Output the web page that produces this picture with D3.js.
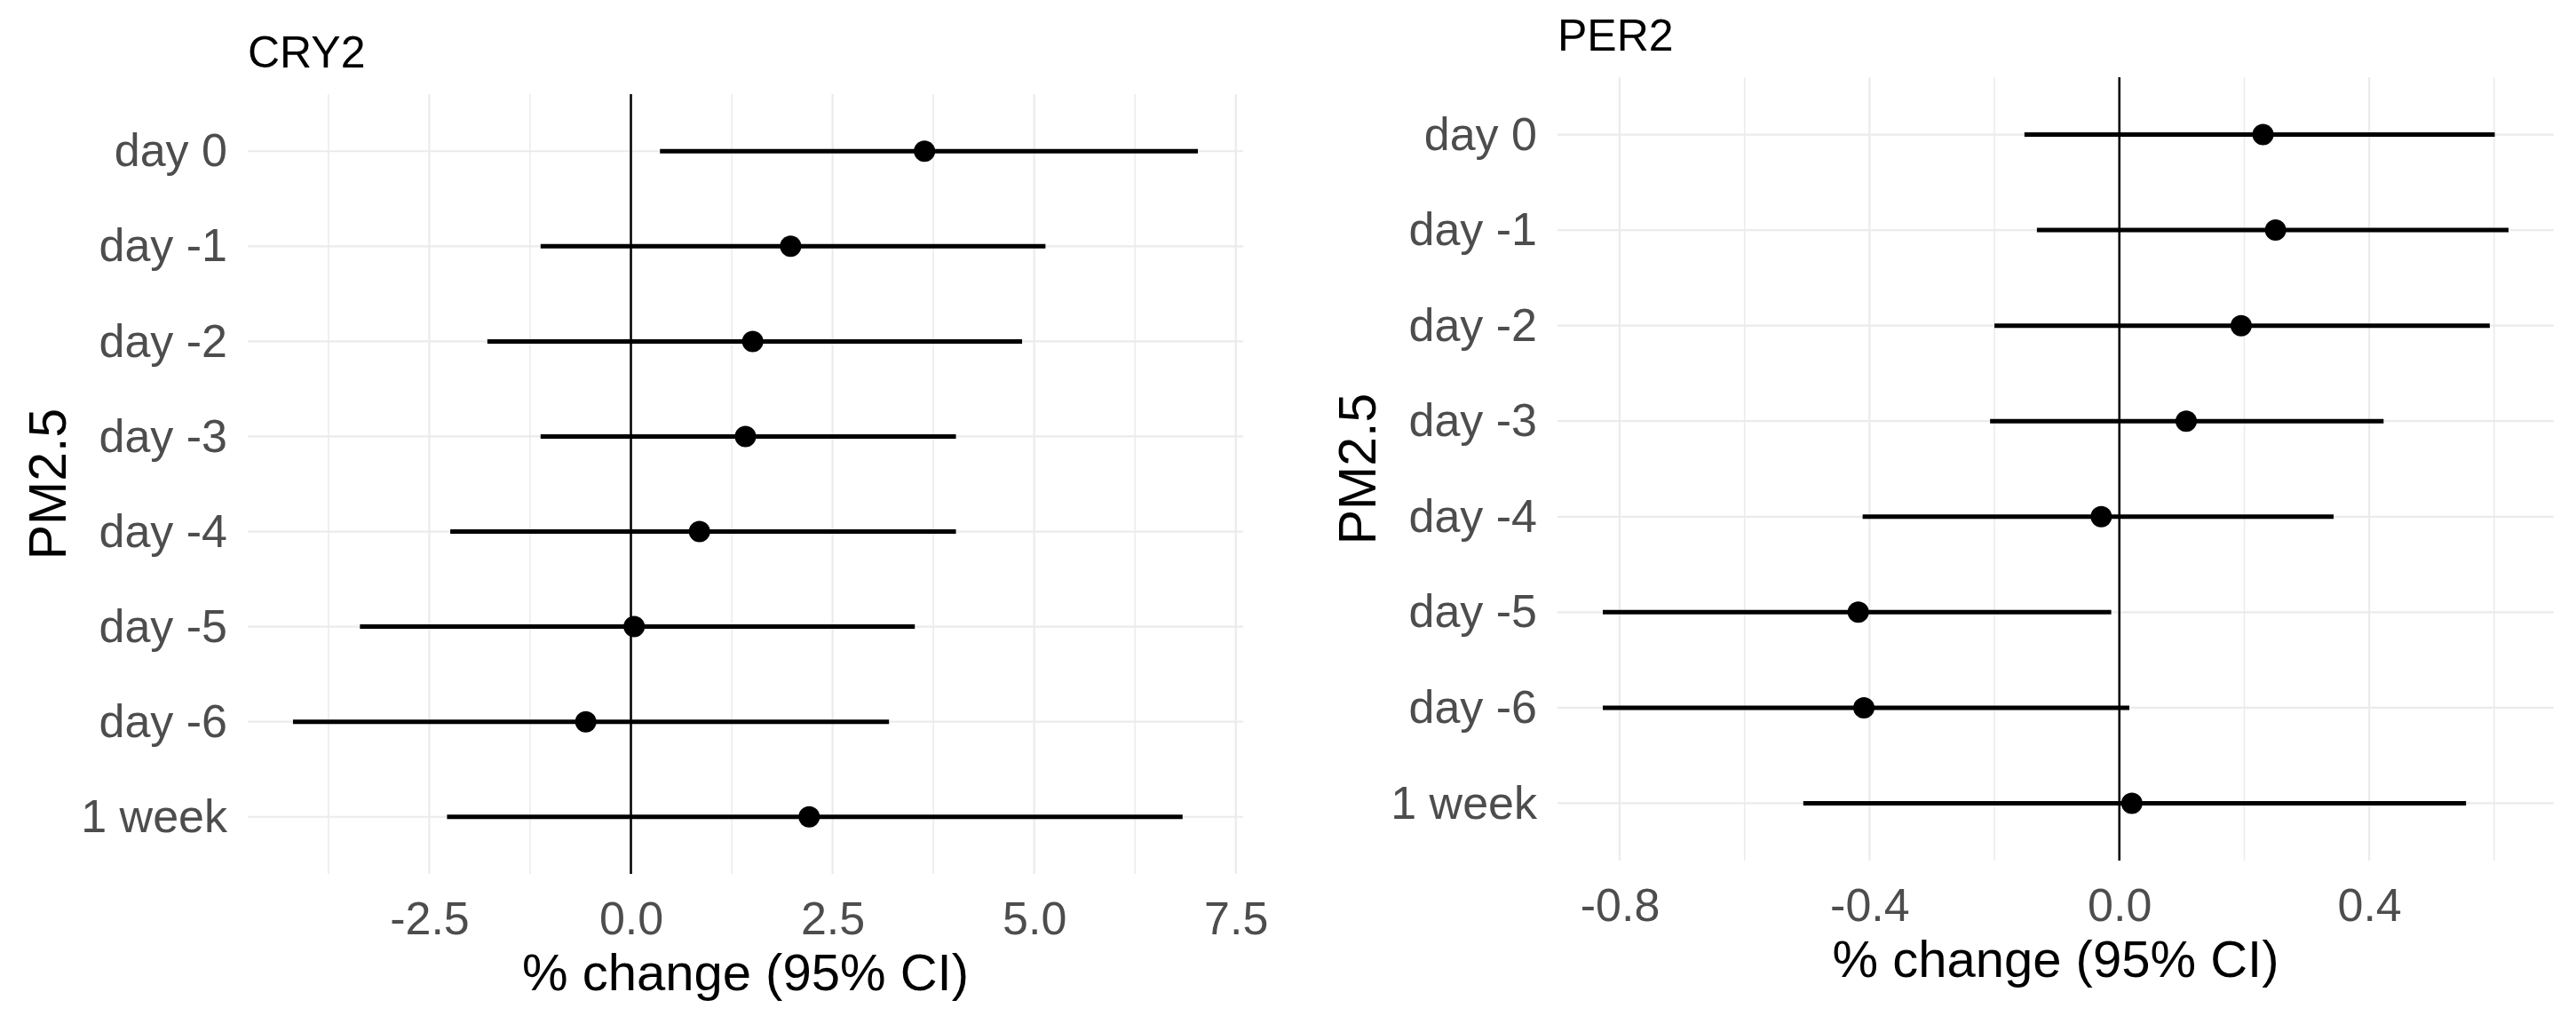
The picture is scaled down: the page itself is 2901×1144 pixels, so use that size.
<!DOCTYPE html>
<html>
<head>
<meta charset="utf-8">
<script src="https://cdn.jsdelivr.net/npm/d3@7"></script>
<style>
    body { margin: 0; background: #ffffff; }
    text { font-family: "Liberation Sans", Arial, sans-serif; }
</style>
</head>
<body>
<div id="chart"></div>
<script>
var lags = ["day 0", "day -1", "day -2", "day -3", "day -4", "day -5", "day -6", "1 week"];

var cry2Est = [3.64, 1.98, 1.51, 1.42, 0.85, 0.04, -0.56, 2.21];
var cry2Lo = [0.36, -1.12, -1.78, -1.12, -2.24, -3.36, -4.19, -2.28];
var cry2Hi = [7.03, 5.14, 4.85, 4.03, 4.03, 3.52, 3.20, 6.84];

var per2Est = [0.23, 0.25, 0.195, 0.107, -0.029, -0.418, -0.409, 0.02];
var per2Lo = [-0.152, -0.132, -0.2, -0.207, -0.411, -0.827, -0.827, -0.506];
var per2Hi = [0.601, 0.623, 0.593, 0.423, 0.343, -0.013, 0.016, 0.555];

var cry2Ticks = [-2.5, 0, 2.5, 5, 7.5];
var cry2Minor = [-3.75, -1.25, 1.25, 3.75, 6.25];
var per2Ticks = [-0.8, -0.4, 0, 0.4];
var per2Minor = [-0.6, -0.2, 0.2, 0.6];

var svg = d3.select("#chart")
    .append("svg")
    .attr("width", 2901)
    .attr("height", 1144);

var gridColor = "#ebebeb", tickColor = "#4d4d4d", ink = "#000000";

// R prints a plain hyphen, not the unicode minus d3.format gives
function fmt1(d) {
    return d.toFixed(1);
}

function drawPanel(p) {
    var data = lags.map(function (d, i) {
        return { lag: d, est: p.est[i], lo: p.lo[i], hi: p.hi[i] };
    });

    // ggplot style 5% expansion of the data range
    var min = d3.min(p.lo), max = d3.max(p.hi);
    var pad = (max - min) * 0.05;
    var x = d3.scaleLinear()
        .domain([min - pad, max + pad])
        .range([p.left, p.right]);
    var y = d3.scalePoint()
        .domain(lags)
        .range([p.top, p.bottom])
        .padding(0.6);

    var g = svg.append("g");

    g.selectAll("line.minor")
        .data(p.minor)
        .enter().append("line")
        .attr("x1", d => x(d)).attr("x2", d => x(d))
        .attr("y1", p.top).attr("y2", p.bottom)
        .attr("stroke", gridColor)
        .attr("stroke-width", 1.5);
    g.selectAll("line.major")
        .data(p.ticks)
        .enter().append("line")
        .attr("x1", d => x(d)).attr("x2", d => x(d))
        .attr("y1", p.top).attr("y2", p.bottom)
        .attr("stroke", gridColor)
        .attr("stroke-width", 2.2);
    g.selectAll("line.hgrid")
        .data(lags)
        .enter().append("line")
        .attr("x1", p.left).attr("x2", p.right)
        .attr("y1", d => y(d)).attr("y2", d => y(d))
        .attr("stroke", gridColor)
        .attr("stroke-width", 2.2);

    // reference line at zero
    g.append("line")
        .attr("x1", x(0)).attr("x2", x(0))
        .attr("y1", p.top).attr("y2", p.bottom)
        .attr("stroke", ink)
        .attr("stroke-width", 2.5);

    g.selectAll("line.ci")
        .data(data)
        .enter().append("line")
        .attr("x1", d => x(d.lo)).attr("x2", d => x(d.hi))
        .attr("y1", d => y(d.lag)).attr("y2", d => y(d.lag))
        .attr("stroke", ink)
        .attr("stroke-width", 5);
    g.selectAll("circle")
        .data(data)
        .enter().append("circle")
        .attr("cx", d => x(d.est))
        .attr("cy", d => y(d.lag))
        .attr("r", 12)
        .attr("fill", ink);

    var xAxis = g.append("g")
        .attr("transform", "translate(0," + p.bottom + ")")
        .call(d3.axisBottom(x).tickValues(p.ticks).tickSize(0).tickPadding(31).tickFormat(fmt1));
    xAxis.select(".domain").remove();
    xAxis.selectAll("text")
        .attr("font-size", 52)
        .attr("fill", tickColor)
        .attr("font-family", "Liberation Sans, Arial, sans-serif");

    var yAxis = g.append("g")
        .attr("transform", "translate(" + p.left + ",0)")
        .call(d3.axisLeft(y).tickSize(0).tickPadding(23));
    yAxis.select(".domain").remove();
    yAxis.selectAll("text")
        .attr("font-size", 52)
        .attr("fill", tickColor)
        .attr("font-family", "Liberation Sans, Arial, sans-serif");

    g.append("text")
        .attr("x", p.left)
        .attr("y", p.top - 30)
        .attr("font-size", 50)
        .attr("fill", ink)
        .text(p.title);
    g.append("text")
        .attr("x", (p.left + p.right) / 2)
        .attr("y", p.bottom + 131)
        .attr("text-anchor", "middle")
        .attr("font-size", 58)
        .attr("fill", ink)
        .text("% change (95% CI)");
    g.append("text")
        .attr("transform", "translate(" + (p.left - 205) + "," + ((p.top + p.bottom) / 2) + ") rotate(-90)")
        .attr("text-anchor", "middle")
        .attr("font-size", 59)
        .attr("fill", ink)
        .text("PM2.5");
}

drawPanel({
    title: "CRY2", est: cry2Est, lo: cry2Lo, hi: cry2Hi,
    ticks: cry2Ticks, minor: cry2Minor,
    left: 279, right: 1400, top: 106, bottom: 984
});
drawPanel({
    title: "PER2", est: per2Est, lo: per2Lo, hi: per2Hi,
    ticks: per2Ticks, minor: per2Minor,
    left: 1754, right: 2876, top: 87, bottom: 969
});
</script>
</body>
</html>
